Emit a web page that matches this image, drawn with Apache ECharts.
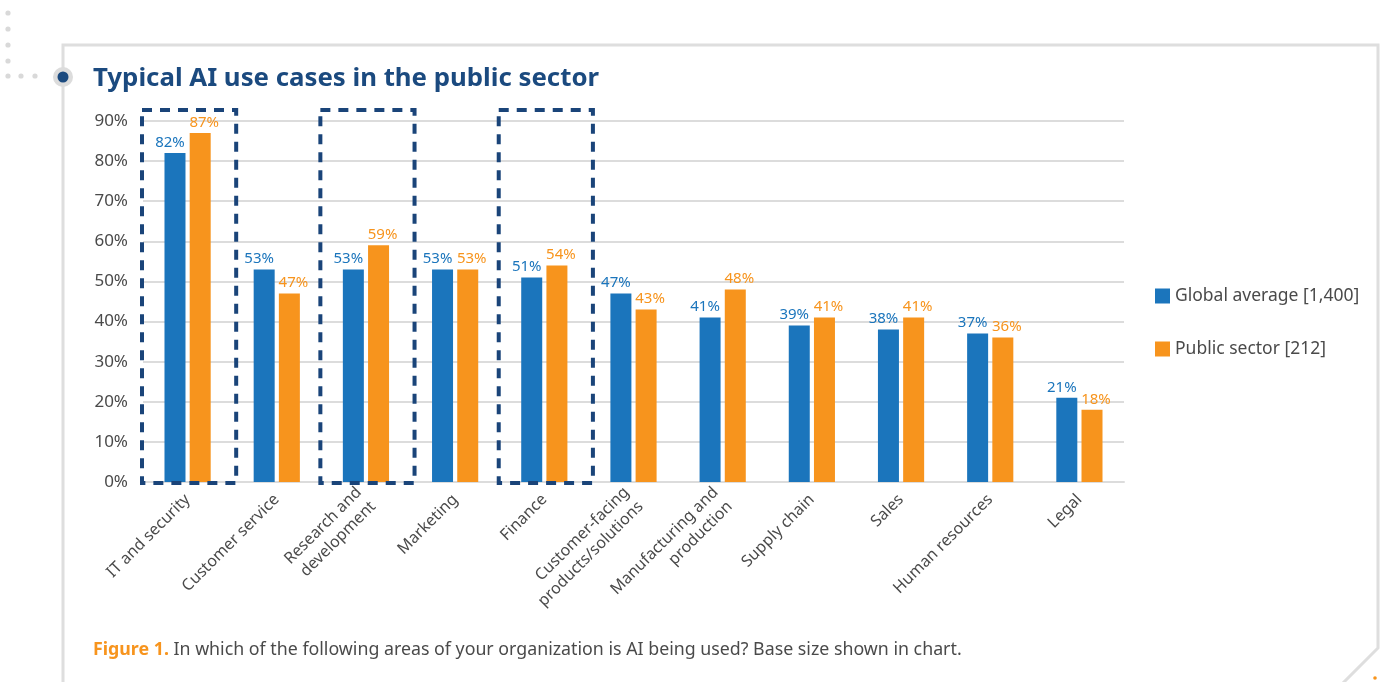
<!DOCTYPE html>
<html><head><meta charset="utf-8">
<script src="https://cdn.jsdelivr.net/npm/echarts@6/dist/echarts.min.js"></script>
<style>html,body{margin:0;padding:0;background:#fff}#c{width:1380px;height:682px}</style>
</head><body><div id="c"></div>
<script>
const categories = ['IT and security','Customer service','Research and\ndevelopment','Marketing','Finance','Customer-facing\nproducts/solutions','Manufacturing and\nproduction','Supply chain','Sales','Human resources','Legal'];
const globalAverage = [82,53,53,53,51,47,41,39,38,37,21];
const publicSector = [87,47,59,53,54,43,48,41,41,36,18];
const seriesNames = ['Global average [1,400]','Public sector [212]'];
const highlighted = ['IT and security','Research and\ndevelopment','Finance'];
const titleText = 'Typical AI use cases in the public sector';
const captionLead = 'Figure 1.';
const captionText = ' In which of the following areas of your organization is AI being used? Base size shown in chart.';

const BLUE = '#1b75bc', ORANGE = '#f7941d', NAVY = '#1b4a7f', GRID = '#dcdcdc', TXT = '#4a4a4a';
const FONT = "'Noto Sans', sans-serif";

const chart = echarts.init(document.getElementById('c'), null, {renderer:'canvas'});

const dots = [[8,13],[8,29],[8,45],[8,61],[8,76],[21,76],[35,76]].map(p => ({
  type:'circle', shape:{cx:p[0], cy:p[1], r:2.6}, style:{fill:'#d9d9d9'}, silent:true
}));

const baseGraphic = [
  {type:'polyline', shape:{points:[[63,690],[63,45],[1378,45],[1378,648],[1342,684]]}, style:{stroke:'#dedede', lineWidth:3, fill:null}, silent:true},
  ...dots,
  {type:'circle', shape:{cx:63, cy:77, r:10}, style:{fill:'#dcdcdc'}, silent:true},
  {type:'circle', shape:{cx:63, cy:77, r:5.5}, style:{fill:NAVY}, silent:true},
  {type:'circle', shape:{cx:1375, cy:678, r:1.8}, style:{fill:ORANGE}, silent:true},
  {type:'text', left:93, top:66, style:{text:titleText, fill:NAVY, font:"bold 25.8px 'Noto Sans', sans-serif"}, silent:true},
  {type:'text', left:93, top:641, style:{
     text:'{a|'+captionLead+'}{b|'+captionText+'}',
     rich:{a:{fill:ORANGE, fontWeight:'bold', fontSize:17.8, fontFamily:FONT}, b:{fill:TXT, fontSize:17.8, fontFamily:FONT}}
  }, silent:true}
];

const labelFor = (c, dx) => ({show:true, position:'top', distance:3, offset:[dx,0], color:c, fontSize:15, fontFamily:FONT, formatter:'{c}%'});

chart.setOption({
  animation:false,
  textStyle:{fontFamily:FONT},
  grid:{left:143, right:256, top:121, bottom:200},
  legend:{orient:'vertical', left:1150, top:282, itemWidth:15, itemHeight:15, itemGap:35, icon:'rect',
    textStyle:{fontSize:17.5, color:TXT, fontFamily:FONT}, data:seriesNames},
  xAxis:{type:'category', data:categories,
    axisLine:{show:true, lineStyle:{color:GRID, width:2}}, axisTick:{show:false},
    axisLabel:{interval:0, rotate:45, margin:15, fontSize:16, color:TXT, fontFamily:FONT, lineHeight:20}},
  yAxis:{type:'value', min:0, max:90, interval:10,
    axisLabel:{formatter:'{value}%', fontSize:17, color:TXT, margin:15, fontFamily:FONT},
    axisLine:{show:false}, axisTick:{show:false},
    splitLine:{lineStyle:{color:GRID, width:2}}},
  series:[
    {name:seriesNames[0], type:'bar', data:globalAverage, barWidth:21, barGap:'20%', itemStyle:{color:BLUE}, label:labelFor(BLUE,-5)},
    {name:seriesNames[1], type:'bar', data:publicSector, barWidth:21, barGap:'20%', itemStyle:{color:ORANGE}, label:labelFor(ORANGE,4)}
  ],
  graphic:baseGraphic
});

// dashed highlight boxes around selected categories, positioned from the axis scale
const c0 = chart.convertToPixel({xAxisIndex:0}, 0);
const c1 = chart.convertToPixel({xAxisIndex:0}, 1);
const band = c1 - c0;
const yTop = chart.convertToPixel({yAxisIndex:0}, 90) - 11;
const yBot = chart.convertToPixel({yAxisIndex:0}, 0) + 1;
const boxes = highlighted.map(name => {
  const cx = chart.convertToPixel({xAxisIndex:0}, categories.indexOf(name));
  return {type:'rect', shape:{x:cx - band/2 - 1, y:yTop, width:band + 5, height:yBot - yTop},
    style:{fill:null, stroke:'#1a4479', lineWidth:4, lineDash:[10,8]}, silent:true, z:10};
});
chart.setOption({graphic:baseGraphic.concat(boxes)}, {replaceMerge:['graphic']});
</script></body></html>
